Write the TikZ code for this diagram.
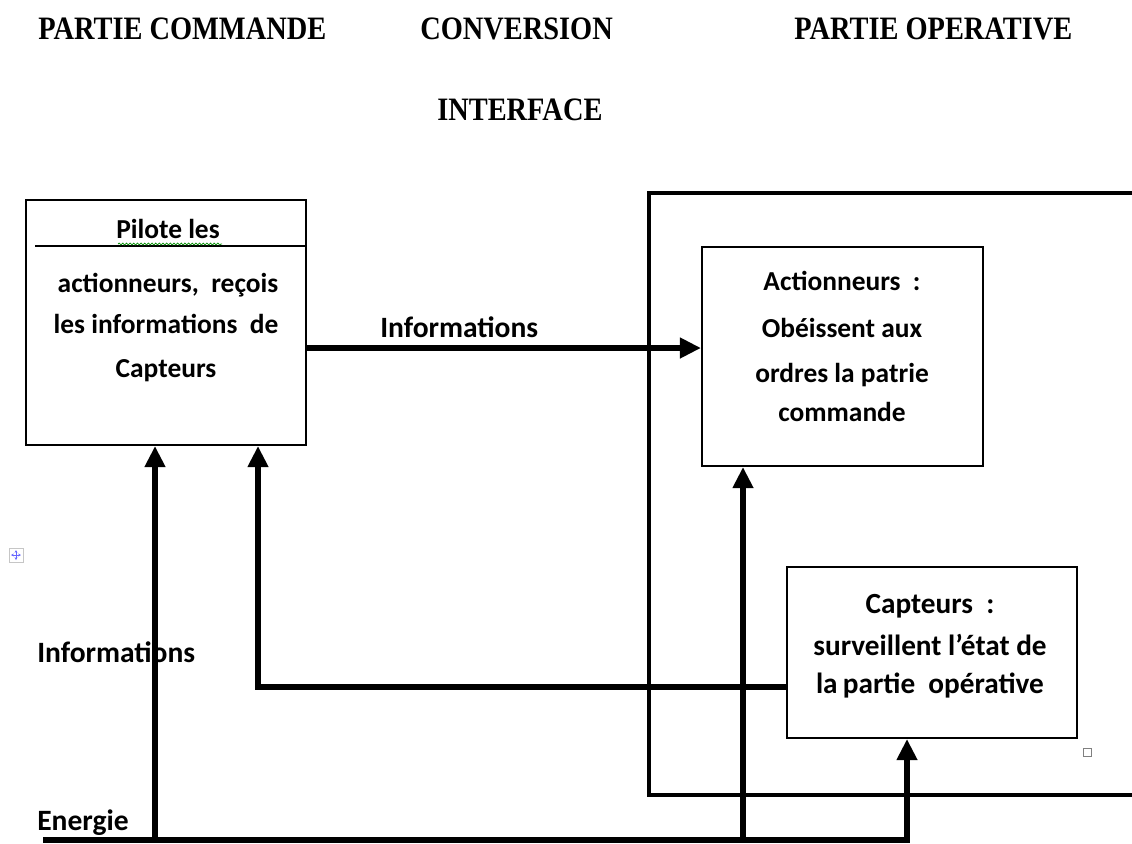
\documentclass[tikz,border=0pt]{standalone}
\usepackage{fontspec}
\usepackage{graphicx}
\setmainfont{Liberation Serif}
\newfontfamily\calib{Carlito}
\usetikzlibrary{arrows.meta,decorations.pathmorphing}
\begin{document}
\begin{tikzpicture}[x=0.025cm,y=-0.025cm,
  hdr/.style={anchor=base west,inner sep=0pt,font=\fontsize{20.2}{24}\selectfont\bfseries},
  lbl/.style={anchor=base west,inner sep=0pt,font=\calib\fontsize{21}{24}\selectfont\bfseries},
  txt/.style={anchor=base,inner sep=0pt,font=\calib\fontsize{19.5}{24}\selectfont\bfseries},
  txtb/.style={txt,font=\calib\fontsize{20.8}{24}\selectfont\bfseries},
  boxstyle/.style={draw,line width=1.4pt,inner sep=0pt},
  arr/.style={line width=4.3pt,line join=miter,-{Triangle[width=14pt,length=15pt]}},
  bar/.style={line width=4.3pt},
  framestyle/.style={line width=2.5pt,line join=miter}]
\useasboundingbox (0,0) rectangle (1132,843);
\fill[white] (0,0) rectangle (1132,843);

% headers
\node[hdr] (h1) at (38,39) {\scalebox{1}[1.15]{PARTIE COMMANDE}};
\node[hdr] (h2) at (420,39) {\scalebox{1}[1.15]{CONVERSION}};
\node[hdr] (h3) at (794,39) {\scalebox{1}[1.15]{PARTIE OPERATIVE}};
\node[hdr] (h4) at (437,120) {\scalebox{1}[1.15]{INTERFACE}};

% right frame (partie operative)
\coordinate (fr1) at (1132,193);
\coordinate (fr2) at (647,193);
\coordinate (fr2b) at (649,193);
\coordinate (fr3) at (649,795);
\coordinate (fr4) at (1132,795);
\draw[framestyle] (fr1) -- (fr2);
\draw[framestyle] (fr2b) -- (fr3) -- (fr4);

% boxes
\node[boxstyle,minimum width=7cm,minimum height=6.125cm] (pc) at (166,322.5) {};
\node[boxstyle,minimum width=7.025cm,minimum height=5.475cm] (act) at (842.5,356.5) {};
\node[boxstyle,minimum width=7.25cm,minimum height=4.275cm] (cap) at (932,652.5) {};

% left box content
\coordinate (sep0) at (35,246);
\draw[line width=1.1pt] (sep0) -- (sep0 -| pc.east);
\node[txt] (pc1) at (168,238) {Pilote les};
\coordinate (wv0) at (118,244);
\coordinate (wv1) at (222,244);
\draw[green!55!black,line width=0.5pt,decorate,decoration={snake,amplitude=0.7pt,segment length=2.6pt}] (wv0) -- (wv1);
\node[txt] (pc2) at (168,292) {actionneurs,~ reçois};
\node[txt] (pc3) at (166,333) {les informations~ de};
\node[txt] (pc4) at (166,377) {Capteurs};

% actionneurs content
\node[txt] (a1) at (842,290) {Actionneurs~ :};
\node[txt] (a2) at (842,337) {Obéissent aux};
\node[txt] (a3) at (842,382) {ordres la patrie};
\node[txt] (a4) at (842,421) {commande};

% capteurs content
\node[txtb] (c1) at (930,613) {Capteurs~ :};
\node[txtb] (c2) at (930,655) {surveillent l’état de};
\node[txtb] (c3) at (930,693) {la\kern-1pt{} partie~ opérative};

% labels
\node[lbl] (l1) at (380,337) {Informations};
\node[lbl] (l2) at (37,662) {Informations};
\node[lbl] (l3) at (37,830) {Energie};

% connectors
\coordinate (iy) at (306,348);
\draw[arr] (pc.east |- iy) -- (act.west |- iy);

\coordinate (e0) at (43,840);
\coordinate (e1) at (910,840);
\draw[bar] (e0) -- (e1);
\coordinate (en1) at (155,840);
\coordinate (en2) at (743,840);
\coordinate (en3) at (907,840);
\draw[arr] (en1) -- (en1 |- pc.south);
\draw[arr] (en2) -- (en2 |- act.south);
\draw[arr] (en3) -- (en3 |- cap.south);

\coordinate (fb) at (258,687);
\draw[arr] (cap.west |- fb) -- (fb) -- (fb |- pc.south);

% small editor marks
\draw[gray,line width=0.6pt] (1083,748) rectangle (1091,756);
\draw[gray!45,line width=0.5pt] (9,548) rectangle (23,562);
\draw[blue!60,line width=0.5pt,{Stealth[length=2pt,width=2pt]}-{Stealth[length=2pt,width=2pt]}] (11,555) -- (21,555);
\draw[blue!60,line width=0.5pt,{Stealth[length=2pt,width=2pt]}-{Stealth[length=2pt,width=2pt]}] (16,550) -- (16,560);
\end{tikzpicture}
\end{document}
